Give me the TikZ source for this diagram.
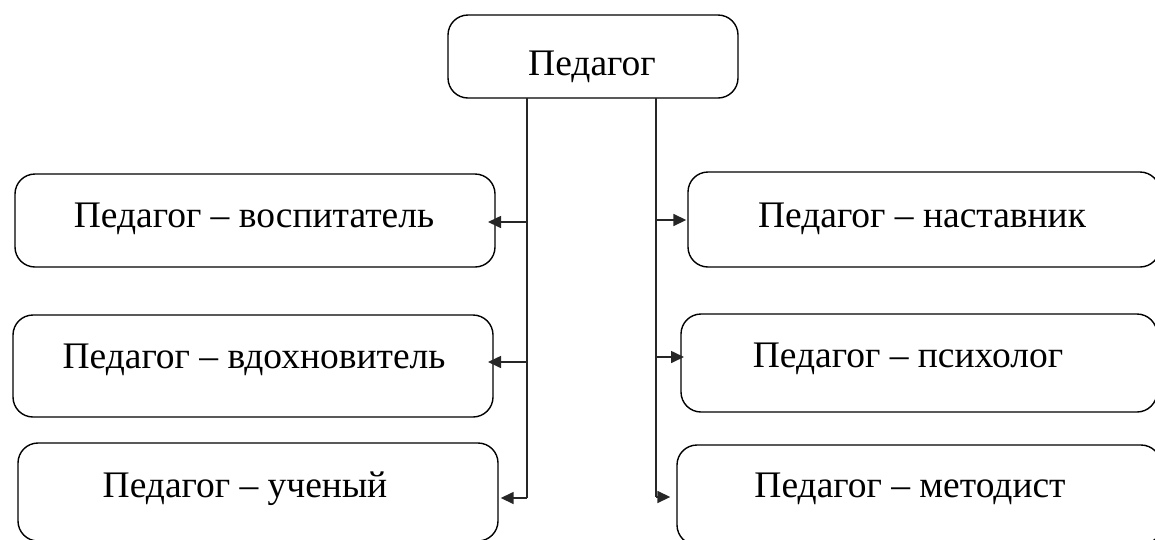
\documentclass[tikz,border=0pt]{standalone}
\usepackage{fontspec}
\setmainfont{Liberation Serif}
\usetikzlibrary{arrows.meta}
\tikzset{
  box/.style={draw=black, line width=1.4pt, rounded corners=20pt, inner sep=0pt},
  lbl/.style={anchor=base, inner sep=0pt, font=\fontsize{37.5}{42}\selectfont},
  link/.style={draw=black!85, line width=1.6pt},
  arr/.style={link, -{Triangle[length=13pt,width=12pt]}}
}
\begin{document}
\begin{tikzpicture}[x=1pt,y=-1pt]
\useasboundingbox (0,0) rectangle (1155,539);
\clip (0,0) rectangle (1155,539);
\node[box, minimum width=290pt, minimum height=83pt] (top) at (593,56.5) {};
\node[box, minimum width=480pt, minimum height=93pt] (L1) at (255,220.5) {};
\node[box, minimum width=480pt, minimum height=102pt] (L2) at (253,366) {};
\node[box, minimum width=480pt, minimum height=98pt] (L3) at (258,492) {};
\node[box, minimum width=472pt, minimum height=95pt] (R1) at (924,219.5) {};
\node[box, minimum width=476pt, minimum height=98pt] (R2) at (919,363) {};
\node[box, minimum width=484pt, minimum height=100pt] (R3) at (919,495) {};
% labels
\node[lbl] (ttop) at (592,75) {Педагог};
\node[lbl] (tL1) at (254,227) {Педагог – воспитатель};
\node[lbl] (tL2) at (254,368) {Педагог – вдохновитель};
\node[lbl] (tL3) at (245,497) {Педагог – ученый};
\node[lbl] (tR1) at (922,227) {Педагог – наставник};
\node[lbl] (tR2) at (908,367) {Педагог – психолог};
\node[lbl] (tR3) at (910,497) {Педагог – методист};
% trunks
\coordinate (ls) at (527,98);
\coordinate (l1) at (527,222);
\coordinate (l2) at (527,362);
\coordinate (l3) at (527,498);
\coordinate (rs) at (656,98);
\coordinate (r1) at (656,220);
\coordinate (r2) at (656,357);
\coordinate (r3) at (656,497);
\draw[link] (ls) -- (l3);
\draw[link] (rs) -- (r3);
\draw[arr] (l1) -- (488,222);
\draw[arr] (l2) -- (488,362);
\draw[arr] (l3) -- ([xshift=2pt]l3 -| L3.east);
\draw[arr] (r1) -- ([xshift=-1pt]r1 -| R1.west);
\draw[arr] (r2) -- (684,357);
\draw[arr] (r3) -- ([xshift=-6pt]r3 -| R3.west);
\end{tikzpicture}
\end{document}
